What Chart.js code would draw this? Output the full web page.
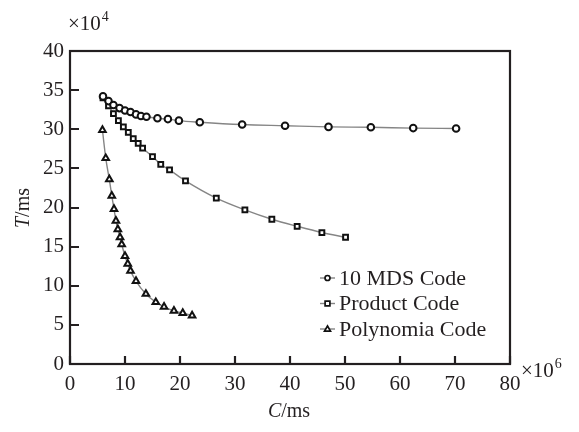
<!DOCTYPE html>
<html>
<head>
<meta charset="utf-8">
<script src="https://cdn.jsdelivr.net/npm/chart.js@4/dist/chart.umd.min.js"></script>
<style>
  html, body { margin: 0; padding: 0; background: #fff; }
  canvas { display: block; }
</style>
</head>
<body>
<canvas id="chart" width="579" height="432"></canvas>
<script>
// C (x10^6 ms) and T (x10^4 ms)
const mdsC = [6.0, 7.0, 7.9, 9.0, 10.0, 11.0, 12.0, 12.9, 13.9, 15.9, 17.8, 19.8, 23.6, 31.3, 39.1, 47.0, 54.7, 62.4, 70.2];
const mdsT = [34.2, 33.6, 33.1, 32.7, 32.4, 32.2, 31.9, 31.7, 31.6, 31.4, 31.3, 31.1, 30.9, 30.6, 30.45, 30.3, 30.25, 30.15, 30.1];

const productC = [6.0, 7.0, 7.9, 8.8, 9.7, 10.6, 11.5, 12.4, 13.2, 15.0, 16.5, 18.1, 21.0, 26.6, 31.8, 36.7, 41.3, 45.8, 50.1];
const productT = [34.0, 33.0, 32.0, 31.1, 30.3, 29.6, 28.8, 28.2, 27.6, 26.5, 25.5, 24.8, 23.4, 21.2, 19.7, 18.5, 17.6, 16.8, 16.2];

const polyC = [5.9, 6.5, 7.15, 7.6, 8.0, 8.35, 8.7, 9.1, 9.4, 10.0, 10.5, 11.0, 12.0, 13.8, 15.6, 17.1, 18.9, 20.5, 22.2];
const polyT = [29.9, 26.3, 23.6, 21.5, 19.8, 18.3, 17.2, 16.2, 15.3, 13.8, 12.8, 11.9, 10.6, 8.95, 7.9, 7.3, 6.8, 6.5, 6.2];

const seriesNames = ["10 MDS Code", "Product Code", "Polynomia Code"];
const xTicks = [0, 10, 20, 30, 40, 50, 60, 70, 80];
const yTicks = [0, 5, 10, 15, 20, 25, 30, 35, 40];

const SERIF = "'Liberation Serif', 'DejaVu Serif', serif";
const INK = "#231f20";
const LINE = "#858585";

function pts(xs, ys) {
  return xs.map(function (x, i) { return { x: x, y: ys[i] }; });
}

function series(label, xs, ys, style, radius) {
  return {
    label: label,
    data: pts(xs, ys),
    borderColor: LINE,
    borderWidth: 1.4,
    cubicInterpolationMode: "monotone",
    pointStyle: style,
    pointRadius: radius,
    pointBorderWidth: 2,
    pointBorderColor: "#111",
    pointBackgroundColor: "#fff",
  };
}

// frame, inner ticks, axis titles, multipliers and legend
const decorations = {
  id: "decorations",
  afterDraw(chart) {
    const ctx = chart.ctx;
    const ca = chart.chartArea;
    const xs = chart.scales.x;
    const ys = chart.scales.y;
    ctx.save();
    ctx.strokeStyle = INK;
    ctx.lineWidth = 2.2;
    ctx.strokeRect(ca.left, ca.top, ca.right - ca.left, ca.bottom - ca.top);

    // inner tick marks
    ctx.beginPath();
    xTicks.forEach(function (v) {
      const px = Math.round(xs.getPixelForValue(v));
      ctx.moveTo(px, ca.bottom);
      ctx.lineTo(px, ca.bottom - 8);
    });
    yTicks.forEach(function (v) {
      const py = Math.round(ys.getPixelForValue(v));
      ctx.moveTo(ca.left, py);
      ctx.lineTo(ca.left + 9, py);
    });
    ctx.stroke();

    ctx.fillStyle = INK;
    ctx.textBaseline = "alphabetic";

    // x10^4 and x10^6
    function power(x, y, exp) {
      ctx.font = "21px " + SERIF;
      ctx.textAlign = "left";
      ctx.fillText("\u00d710", x, y);
      const w = ctx.measureText("\u00d710").width;
      ctx.font = "14px " + SERIF;
      ctx.fillText(exp, x + w + 1, y - 9);
    }
    power(68, 30, "4");
    power(521, 377, "6");

    // axis titles with italic variable
    function title(x, y, v, rest) {
      ctx.font = "italic 20px " + SERIF;
      const w1 = ctx.measureText(v).width;
      ctx.font = "20px " + SERIF;
      const w2 = ctx.measureText(rest).width;
      const x0 = x - (w1 + w2) / 2;
      ctx.textAlign = "left";
      ctx.font = "italic 20px " + SERIF;
      ctx.fillText(v, x0, y);
      ctx.font = "20px " + SERIF;
      ctx.fillText(rest, x0 + w1, y);
    }
    title(289, 417, "C", "/ms");
    ctx.save();
    ctx.translate(29, 208);
    ctx.rotate(-Math.PI / 2);
    title(0, 0, "T", "/ms");
    ctx.restore();

    // legend inside the plot
    const rows = [278, 303.5, 329];
    chart.data.datasets.forEach(function (ds, i) {
      const y = rows[i];
      ctx.strokeStyle = LINE;
      ctx.lineWidth = 1.4;
      ctx.beginPath();
      ctx.moveTo(320, y);
      ctx.lineTo(335, y);
      ctx.stroke();
      ctx.strokeStyle = "#111";
      ctx.fillStyle = "#fff";
      ctx.lineWidth = 1.7;
      ctx.beginPath();
      if (ds.pointStyle === "circle") {
        ctx.arc(327.5, y, 2.5, 0, Math.PI * 2);
      } else if (ds.pointStyle === "rect") {
        ctx.rect(325.1, y - 2.4, 4.8, 4.8);
      } else {
        ctx.moveTo(327.5, y - 3);
        ctx.lineTo(330.5, y + 2.2);
        ctx.lineTo(324.5, y + 2.2);
        ctx.closePath();
      }
      ctx.fill();
      ctx.stroke();
      ctx.fillStyle = INK;
      ctx.font = "22px " + SERIF;
      ctx.textAlign = "left";
      ctx.textBaseline = "middle";
      ctx.fillText(ds.label, 339, y + 1);
    });
    ctx.restore();
  },
};

new Chart(document.getElementById("chart"), {
  type: "line",
  data: {
    datasets: [
      series(seriesNames[0], mdsC, mdsT, "circle", 3.3),
      series(seriesNames[1], productC, productT, "rect", 3.4),
      series(seriesNames[2], polyC, polyT, "triangle", 3.8),
    ],
  },
  options: {
    responsive: false,
    animation: false,
    layout: { padding: { left: 0, top: 51, right: 69, bottom: 0 } },
    plugins: {
      legend: { display: false },
      tooltip: { enabled: false },
    },
    scales: {
      x: {
        type: "linear",
        min: 0,
        max: 80,
        afterFit: function (scale) { scale.height = 68; },
        afterBuildTicks: function (scale) {
          scale.ticks = xTicks.map(function (v) { return { value: v }; });
        },
        grid: { display: false, drawTicks: false, tickLength: 0 },
        border: { display: false },
        ticks: {
          padding: 8,
          color: INK,
          font: { family: SERIF, size: 21 },
        },
      },
      y: {
        type: "linear",
        min: 0,
        max: 40,
        afterFit: function (scale) { scale.width = 70; },
        afterBuildTicks: function (scale) {
          scale.ticks = yTicks.map(function (v) { return { value: v }; });
        },
        grid: { display: false, drawTicks: false, tickLength: 0 },
        border: { display: false },
        ticks: {
          padding: 6,
          color: INK,
          font: { family: SERIF, size: 21 },
        },
      },
    },
  },
  plugins: [decorations],
});
</script>
</body>
</html>
